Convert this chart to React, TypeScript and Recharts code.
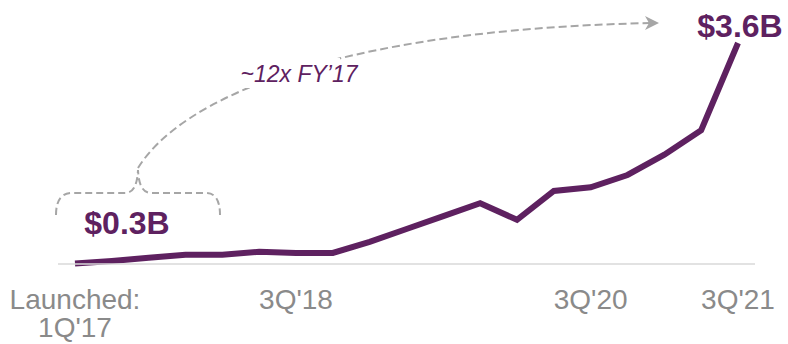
import { LineChart, Line, XAxis, YAxis } from 'recharts';

const quarters = [
  "1Q'17", "2Q'17", "3Q'17", "4Q'17",
  "1Q'18", "2Q'18", "3Q'18", "4Q'18",
  "1Q'19", "2Q'19", "3Q'19", "4Q'19",
  "1Q'20", "2Q'20", "3Q'20", "4Q'20",
  "1Q'21", "2Q'21", "3Q'21",
];
const volume = [
  0.01, 0.05, 0.10, 0.15,
  0.15, 0.20, 0.18, 0.18,
  0.36, 0.57, 0.78, 0.99,
  0.72, 1.19, 1.25, 1.45,
  1.78, 2.18, 3.6,
];
const shownTicks = ["1Q'17", "3Q'18", "3Q'20", "3Q'21"];
const lastLabel = '$3.6B';
const startLabel = '$0.3B';
const growthLabel = '~12x FY\u201917';

const PURPLE = '#5e2160';
const GREY = '#a6a6a6';
const FONT = '"Liberation Sans", Arial, sans-serif';

const data = quarters.map((q, i) => ({ q, v: volume[i] }));

function QuarterTick({ x, y, payload }: any) {
  const first = payload.value === quarters[0];
  return (
    <g>
      {first ? (
        <text x={x} y={y + 45} textAnchor="middle" fill="#8a8a8a" fontSize={28} fontFamily={FONT}>
          <tspan x={x}>Launched:</tspan>
          <tspan x={x} dy={28}>{payload.value}</tspan>
        </text>
      ) : (
        <text x={x} y={y + 45} textAnchor="middle" fill="#8a8a8a" fontSize={28} fontFamily={FONT}>
          {payload.value}
        </text>
      )}
    </g>
  );
}

function EndLabel({ x, y, index }: any) {
  if (index !== quarters.length - 1) return null;
  return (
    <text x={x + 2} y={y - 6} textAnchor="middle" fill={PURPLE} fontSize={32} fontWeight="bold" fontFamily={FONT}>
      {lastLabel}
    </text>
  );
}

export default function App() {
  return (
    <div style={{ position: 'absolute', left: 0, top: 0, background: '#fff' }}>
      <LineChart width={788} height={344} data={data} margin={{ top: 43, right: 33, bottom: 0, left: 58 }}>
        <XAxis
          dataKey="q"
          ticks={shownTicks}
          interval={0}
          height={80}
          padding={{ left: 17, right: 17 }}
          tickLine={false}
          tickSize={0}
          tickMargin={0}
          axisLine={{ stroke: '#d9d9d9', strokeWidth: 1.5 }}
          tick={<QuarterTick />}
        />
        <YAxis hide domain={[0, 3.6]} />

        {/* FY'17 bracket */}
        <path
          d="M56,215 Q56,193 72,193 L125,193 Q137,193 138,170 Q139,193 151,193 L206,193 Q220,193 220,215"
          fill="none" stroke={GREY} strokeWidth={2} strokeDasharray="7 4"
        />
        <text x={127} y={234} textAnchor="middle" fill={PURPLE} fontSize={32} fontWeight="bold" fontFamily={FONT}>
          {startLabel}
        </text>

        {/* growth arrow */}
        <path d="M138,168 C180,100 330,30 650,23" fill="none" stroke={GREY} strokeWidth={2} strokeDasharray="8 4" />
        <path d="M645,16 L659,23 L645,30 L649,23 Z" fill={GREY} />
        <rect x={244} y={58} width={96} height={30} fill="#fff" />
        <text x={299} y={82} textAnchor="middle" fill={PURPLE} fontSize={23} fontStyle="italic" fontFamily={FONT}>
          {growthLabel}
        </text>

        <Line
          type="linear"
          dataKey="v"
          stroke={PURPLE}
          strokeWidth={6}
          dot={false}
          activeDot={false}
          label={<EndLabel />}
          isAnimationActive={false}
        />
      </LineChart>
    </div>
  );
}
